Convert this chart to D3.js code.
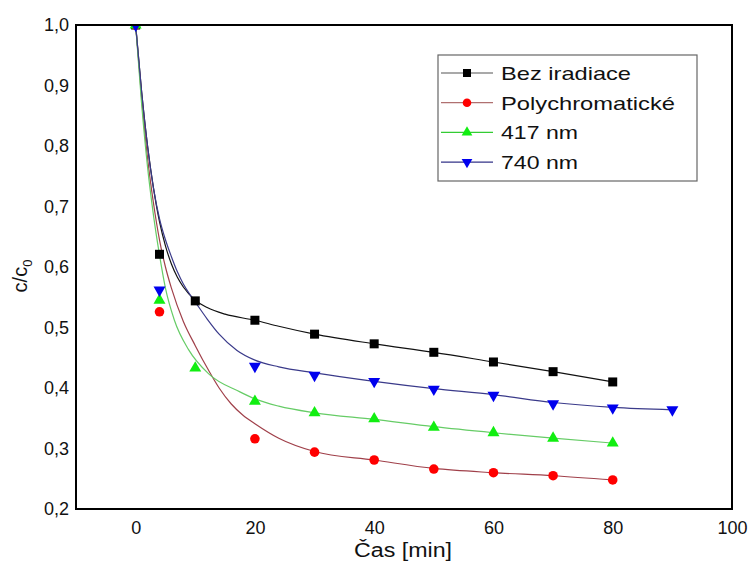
<!DOCTYPE html>
<html><head><meta charset="utf-8">
<script src="https://cdn.jsdelivr.net/npm/d3@7"></script>
<style>body{margin:0;background:#fff}svg{display:block}text{font-family:Arial,"Liberation Sans",sans-serif}</style>
</head><body><svg id="c" width="749" height="562"></svg>
<script>
// measured data points
const tBez = [0,4,10,20,30,40,50,60,70,80];
const vBez = [1.0,0.621,0.544,0.512,0.489,0.473,0.459,0.443,0.427,0.41];
const tPoly = [0,4,20,30,40,50,60,70,80];
const vPoly = [1.0,0.526,0.316,0.294,0.281,0.266,0.26,0.255,0.248];
const t417 = [0,4,10,20,30,40,50,60,70,80];
const v417 = [1.0,0.545,0.433,0.378,0.359,0.349,0.335,0.326,0.317,0.309];
const t740 = [0,4,20,30,40,50,60,70,80,90];
const v740 = [1.0,0.562,0.436,0.421,0.411,0.398,0.388,0.374,0.367,0.364];
// fitted curves
const fBezT = [0,1,2,3,4,5,6,7,8,10,12,15,20,24,30,40,50,60,70,80];
const fBezV = [1.0,0.89,0.80,0.73,0.675,0.635,0.605,0.583,0.567,0.545,0.533,0.522,0.512,0.502,0.489,0.473,0.459,0.443,0.427,0.41];
const fPolyT = [0,1,2,3,4,5,6,8,10,12.3,14,16,18,20,24,30,40,50,60,70,80];
const fPolyV = [1.0,0.88,0.78,0.705,0.645,0.60,0.565,0.51,0.47,0.428,0.40,0.374,0.355,0.341,0.317,0.295,0.281,0.267,0.26,0.255,0.248];
const f417T = [0,1,2,3,4,5,6.5,8.9,12.3,17.4,20,24,30,40,50,60,70,80];
const f417V = [1.0,0.87,0.765,0.685,0.62,0.565,0.512,0.463,0.423,0.394,0.382,0.37,0.359,0.348,0.336,0.326,0.317,0.309];
const f740T = [0,1,2,3,4,5,6,7,8,9,10,12,14,17,20,24,30,40,50,60,70,80,90];
const f740V = [1.0,0.89,0.80,0.73,0.68,0.645,0.617,0.592,0.572,0.556,0.542,0.514,0.489,0.462,0.446,0.435,0.425,0.411,0.399,0.389,0.376,0.368,0.364];
const seriesNames = ["Bez iradiace","Polychromatické","417 nm","740 nm"];
const xTicks = [0,20,40,60,80,100];
const yTicks = [0.2,0.3,0.4,0.5,0.6,0.7,0.8,0.9,1.0];

const series = [
  {name:seriesNames[0], t:tBez, v:vBez, ft:fBezT, fv:fBezV, sym:d3.symbolSquare, size:81, rot:0, fill:"#000", line:"#111", leg:"#555"},
  {name:seriesNames[1], t:tPoly, v:vPoly, ft:fPolyT, fv:fPolyV, sym:d3.symbolCircle, size:72, rot:0, fill:"#f00", line:"#a0404a", leg:"#b07070"},
  {name:seriesNames[2], t:t417, v:v417, ft:f417T, fv:f417V, sym:d3.symbolTriangle, size:62, rot:0, fill:"#11ee11", line:"#66cc66", leg:"#33cc33"},
  {name:seriesNames[3], t:t740, v:v740, ft:f740T, fv:f740V, sym:d3.symbolTriangle, size:62, rot:180, fill:"#0000ee", line:"#3a3a8a", leg:"#333388"}
];

const svg = d3.select("#c");
const x = d3.scaleLinear().domain([-10,100]).range([76,732]);
const y = d3.scaleLinear().domain([0.2,1.0]).range([509,25]);
const loc = d3.formatLocale({decimal:",",thousands:" ",grouping:[3],currency:["",""]});
const fy = loc.format(".1f");

svg.append("clipPath").attr("id","pc").append("rect")
  .attr("x",x(-10)).attr("y",y(1.0)).attr("width",x(100)-x(-10)).attr("height",y(0.2)-y(1.0));

const plot = svg.append("g").attr("clip-path","url(#pc)");
const line = d3.line().x(d=>x(d[0])).y(d=>y(d[1])).curve(d3.curveMonotoneX);
series.forEach(s=>{
  plot.append("path").datum(s.ft.map((t,i)=>[t,s.fv[i]]))
    .attr("d",line).attr("fill","none").attr("stroke",s.line).attr("stroke-width",1.2);
});
series.forEach(s=>{
  plot.selectAll(null).data(s.t.map((t,i)=>[t,s.v[i]])).enter().append("path")
    .attr("d",d3.symbol().type(s.sym).size(s.size))
    .attr("transform",d=>`translate(${x(d[0])},${y(d[1])}) rotate(${s.rot})`)
    .attr("fill",s.fill);
});

// frame
svg.append("rect").attr("x",x(-10)).attr("y",y(1.0)).attr("width",x(100)-x(-10)).attr("height",y(0.2)-y(1.0))
  .attr("fill","none").attr("stroke","#000").attr("stroke-width",2);

// axes
const ax = svg.append("g").attr("transform",`translate(0,${y(0.2)})`)
  .call(d3.axisBottom(x).tickValues(xTicks).tickSize(0).tickPadding(12).tickFormat(d3.format("d")));
ax.select(".domain").remove();
ax.selectAll("text").attr("font-size",18).attr("fill","#111").attr("font-family","Arial, 'Liberation Sans', sans-serif");
const ay = svg.append("g").attr("transform",`translate(${x(-10)},0)`)
  .call(d3.axisLeft(y).tickValues(yTicks).tickSize(0).tickPadding(7).tickFormat(fy));
ay.select(".domain").remove();
ay.selectAll("text").attr("font-size",18).attr("fill","#111").attr("font-family","Arial, 'Liberation Sans', sans-serif");

// titles
svg.append("text").attr("x",403).attr("y",557).attr("text-anchor","middle")
  .attr("font-size",20).attr("fill","#111").attr("textLength",98).attr("lengthAdjust","spacingAndGlyphs").text("Čas [min]");
const yt = svg.append("text").attr("transform","translate(27,276) rotate(-90)").attr("text-anchor","middle")
  .attr("font-size",20).attr("fill","#111");
yt.append("tspan").text("c/c");
yt.append("tspan").attr("font-size",13).attr("dy",5).text("0");

// legend
const lg = svg.append("g");
lg.append("rect").attr("x",438).attr("y",55).attr("width",259).attr("height",126)
  .attr("fill","#fff").attr("stroke","#666").attr("stroke-width",1.2);
const lens = [130,174,77,77];
series.forEach((s,i)=>{
  const ry = 73 + i*29.7;
  lg.append("line").attr("x1",441).attr("x2",493).attr("y1",ry).attr("y2",ry).attr("stroke",s.leg).attr("stroke-width",1.2);
  lg.append("path").attr("d",d3.symbol().type(s.sym).size(s.size*0.8)).attr("transform",`translate(467,${ry}) rotate(${s.rot})`).attr("fill",s.fill);
  lg.append("text").attr("x",501).attr("y",ry+7).attr("font-size",19).attr("fill","#111")
    .attr("textLength",lens[i]).attr("lengthAdjust","spacingAndGlyphs").text(s.name);
});
</script></body></html>
